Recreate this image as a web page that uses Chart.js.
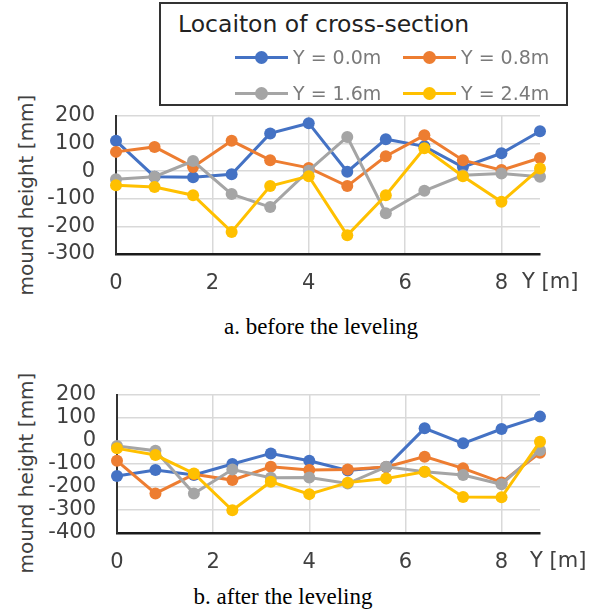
<!DOCTYPE html>
<html>
<head>
<meta charset="utf-8">
<script src="https://cdn.jsdelivr.net/npm/chart.js@4.4.1/dist/chart.umd.min.js"></script>
<style>
  body { margin: 0; background: #fff; width: 597px; height: 610px; position: relative; overflow: hidden; }
  canvas { position: absolute; left: 0; }
  #chartA { top: 100px; }
  #chartB { top: 370px; }
  #legendBox { position: absolute; left: 159px; top: 2px; width: 409px; height: 104px; box-sizing: border-box; border: 2px solid #333; }
  #legendTitle { position: absolute; left: 178px; top: 9px; font: 23.5px "DejaVu Sans"; color: #222; line-height: 30px; white-space: nowrap; }
  .item { position: absolute; height: 24px; white-space: nowrap; }
  .item .ln { position: absolute; left: 0; top: 11px; width: 53px; height: 3px; }
  .item .dot { position: absolute; left: 20px; top: 6px; width: 13px; height: 13px; border-radius: 50%; }
  .item .txt { position: absolute; left: 58px; top: 0; font: 19px "DejaVu Sans"; color: #7a7a7a; line-height: 24px; }
  .ytitle { position: absolute; left: -94px; width: 240px; height: 24px; line-height: 24px; text-align: center;
            font: 20px "DejaVu Sans"; color: #404040; transform: rotate(-90deg); white-space: nowrap; }
  .caption { position: absolute; width: 300px; text-align: center; font: 23px "Liberation Serif"; color: #000; line-height: 26px; }
</style>
</head>
<body>
<div id="legendBox"></div>
<div id="legendTitle">Locaiton of cross-section</div>
<div class="ytitle" style="top:183px;">mound height [mm]</div>
<canvas id="chartA" width="597" height="200"></canvas>
<div class="caption" style="left:171px; top:314px;">a. before the leveling</div>
<div class="ytitle" style="top:461px;">mound height [mm]</div>
<canvas id="chartB" width="597" height="210"></canvas>
<div class="caption" style="left:133px; top:584px;">b. after the leveling</div>
<script>
// measuring stations along the cross-section [m]
const positions = [0, 0.8, 1.6, 2.4, 3.2, 4.0, 4.8, 5.6, 6.4, 7.2, 8.0, 8.8];
const seriesNames = ['Y = 0.0m', 'Y = 0.8m', 'Y = 1.6m', 'Y = 2.4m'];
const seriesColors = ['#4472C4', '#ED7D31', '#A5A5A5', '#FFC000'];
const xTicks = [0, 2, 4, 6, 8];

// mound height before the leveling [mm]
const beforeY00 = [110, -20, -22, -11, 137, 174, -2, 116, 90, 15, 65, 145];
const beforeY08 = [70, 88, 15, 110, 40, 12, -54, 54, 130, 40, 4, 48];
const beforeY16 = [-29, -20, 37, -83, -130, 2, 124, -152, -71, -15, -8, -20];
const beforeY24 = [-51, -57, -87, -220, -54, -18, -232, -87, 83, -18, -111, 10];

// mound height after the leveling [mm]
const afterY00 = [-152, -126, -148, -100, -54, -86, -128, -113, 55, -10, 52, 106];
const afterY08 = [-86, -228, -145, -170, -112, -126, -124, -113, -68, -119, -180, -51];
const afterY16 = [-22, -42, -228, -124, -160, -159, -185, -112, -134, -148, -188, -40];
const afterY24 = [-32, -61, -141, -301, -177, -231, -181, -163, -134, -243, -245, -3];

// legend (shared by both panels)
const legendCols = [235, 403];
const legendRows = [57, 93];
seriesNames.forEach((name, i) => {
  const el = document.createElement('div');
  el.className = 'item';
  el.style.left = legendCols[i % 2] + 'px';
  el.style.top = (legendRows[Math.floor(i / 2)] - 12) + 'px';
  el.innerHTML = '<span class="ln"></span><span class="dot"></span><span class="txt"></span>';
  el.querySelector('.ln').style.background = seriesColors[i];
  el.querySelector('.dot').style.background = seriesColors[i];
  el.querySelector('.txt').textContent = name;
  document.body.appendChild(el);
});

const font = { family: 'DejaVu Sans', size: 21 };

// "Y [m]" unit label next to the last x tick
const unitLabel = {
  id: 'unitLabel',
  afterDraw(chart, args, opts) {
    const c = chart.ctx, a = chart.chartArea;
    c.save();
    c.font = '21px "DejaVu Sans"';
    c.fillStyle = '#404040';
    c.textAlign = 'left';
    c.textBaseline = 'middle';
    c.fillText('Y [m]', a.right + opts.dx, a.bottom + opts.dy);
    c.restore();
  }
};

function makeChart(id, series, yMin, yMax, layout) {
  return new Chart(document.getElementById(id), {
    type: 'line',
    data: {
      datasets: series.map((vals, i) => ({
        label: seriesNames[i],
        data: positions.map((x, j) => ({ x: x, y: vals[j] })),
        borderColor: seriesColors[i],
        backgroundColor: seriesColors[i],
        borderWidth: 3,
        pointRadius: 6,
        pointBorderWidth: 0,
        tension: 0,
        clip: false,
        order: series.length - i
      }))
    },
    options: {
      responsive: false,
      animation: false,
      layout: { padding: { top: layout.top, right: 57, left: 0, bottom: 0 } },
      plugins: {
        legend: { display: false },
        tooltip: { enabled: false },
        unitLabel: { dx: layout.unitDx, dy: 29 }
      },
      scales: {
        x: {
          type: 'linear',
          min: 0,
          max: 8.8,
          afterBuildTicks(scale) { scale.ticks = xTicks.map(v => ({ value: v })); },
          afterFit(scale) { scale.height = layout.xHeight; },
          ticks: { font: font, color: '#404040', padding: 0, maxRotation: 0 },
          grid: { color: '#d9d9d9', lineWidth: 1.5, drawTicks: true, tickLength: 17, tickColor: 'rgba(0,0,0,0)' },
          border: { color: '#1a1a1a', width: 2.5 }
        },
        y: {
          min: yMin,
          max: yMax,
          afterFit(scale) { scale.width = layout.yWidth; },
          ticks: { stepSize: 100, autoSkip: false, font: font, color: '#404040', padding: 0 },
          grid: { color: '#d9d9d9', lineWidth: 1.5, drawTicks: true, tickLength: 21, tickColor: 'rgba(0,0,0,0)' },
          border: { color: '#333', width: 2 }
        }
      }
    },
    plugins: [unitLabel]
  });
}

makeChart('chartA', [beforeY00, beforeY08, beforeY16, beforeY24], -300, 200,
  { top: 16, xHeight: 46, yWidth: 116, unitDx: -18 });
makeChart('chartB', [afterY00, afterY08, afterY16, afterY24], -400, 200,
  { top: 25, xHeight: 47, yWidth: 117, unitDx: -10 });
</script>
</body>
</html>
